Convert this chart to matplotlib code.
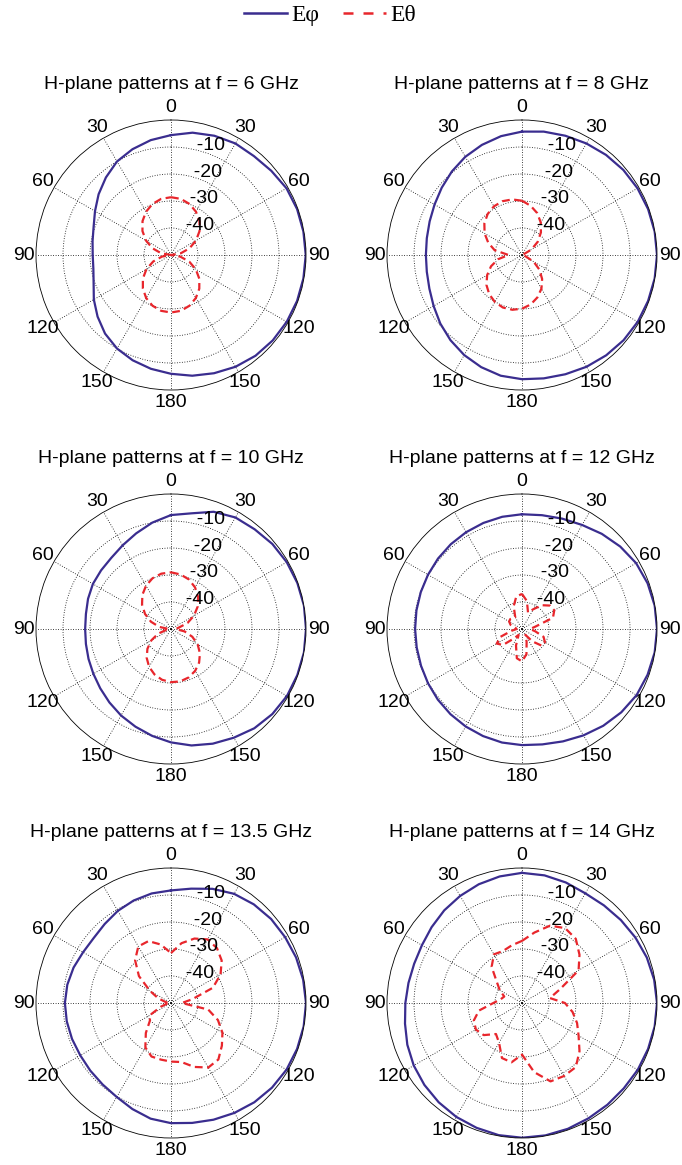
import numpy as np
import matplotlib.pyplot as plt
from matplotlib.lines import Line2D

plt.rcParams['font.family'] = ['Liberation Sans', 'DejaVu Sans']

# sample angles in degrees, measured clockwise from the top (0)
angles = np.arange(0, 360, 10)

freqs = ['6', '8', '10', '12', '13.5', '14']

# E-phi (dB), one value per 10 deg
ephi_6 = [-5.6, -4.0, -3.0, -2.3, -2.2, -1.5, -0.6, -0.3, -0.2, -0.1,
          -0.2, -0.3, -0.5, -0.8, -1.3, -2.2, -3.4, -4.6, -6.0,
          -7.2, -8.5, -10.0, -12.0, -14.5, -17.0, -19.5, -20.8, -21.0,
          -20.5, -19.5, -17.5, -15.0, -12.5, -10.0, -8.3, -6.8]
ephi_8 = [-4.3, -3.6, -3.0, -2.3, -1.6, -1.0, -0.6, -0.3, -0.1, 0.0,
          -0.1, -0.3, -0.5, -0.9, -1.5, -2.2, -3.0, -3.6, -4.0,
          -4.6, -5.8, -7.2, -8.8, -10.5, -12.2, -13.5, -14.2, -14.4,
          -14.2, -13.6, -12.6, -11.2, -9.6, -8.0, -6.6, -5.3]
ephi_10 = [-7.8, -6.5, -3.8, -2.3, -1.8, -1.0, -0.5, -0.2, 0.0, 0.0,
           0.0, -0.2, -0.4, -1.0, -2.0, -3.5, -4.8, -6.2, -8.0,
           -9.8, -11.5, -13.0, -14.5, -15.8, -16.8, -17.5, -18.0, -18.2,
           -18.0, -17.3, -16.6, -16.2, -15.6, -14.2, -12.3, -10.0]
ephi_12 = [-7.5, -7.2, -6.5, -5.5, -4.0, -2.5, -1.2, -0.5, -0.1, 0.0,
           -0.1, -0.5, -1.0, -2.0, -3.2, -4.5, -5.7, -6.6, -7.0,
           -7.3, -7.8, -8.3, -8.8, -9.3, -9.8, -10.2, -10.4, -10.4,
           -10.3, -10.1, -9.8, -9.4, -9.0, -8.6, -8.2, -7.8]
ephi_135 = [-8.3, -7.0, -5.0, -3.3, -2.3, -1.6, -1.2, -0.7, -0.3, 0.0,
            -0.1, -0.3, -0.6, -1.2, -2.0, -3.0, -4.0, -4.9, -5.5,
            -6.5, -8.2, -9.8, -10.6, -11.0, -11.2, -11.0, -10.8, -10.7,
            -11.0, -11.6, -12.4, -12.6, -11.8, -10.6, -9.6, -8.8]
ephi_14 = [-1.8, -2.0, -2.5, -3.1, -2.8, -2.2, -1.5, -0.8, -0.3, 0.0,
           -0.1, -0.3, -0.5, -0.8, -0.8, -0.7, -0.4, -0.2, -0.1,
           -0.3, -0.8, -1.3, -2.0, -2.8, -3.7, -4.8, -6.0, -6.8,
           -7.3, -7.5, -7.2, -6.3, -5.2, -4.2, -3.2, -2.4]

# E-theta (dB)
eth_6 = [-28.6, -28.9, -29.9, -31.5, -33.6, -36.2, -39.3, -42.7, -46.3, -50.0,
         -46.5, -42.8, -39.4, -36.3, -33.7, -31.6, -30.0, -29.0, -28.7,
         -29.0, -30.0, -31.6, -33.8, -36.4, -39.5, -43.0, -46.6, -50.0,
         -46.3, -42.7, -39.3, -36.2, -33.6, -31.5, -29.9, -28.9]
eth_8 = [-29.9, -31.5, -33.5, -36.1, -39.1, -42.4, -46.0, -49.6, -50.0, -50.0,
         -50.0, -48.6, -45.0, -41.6, -38.4, -35.6, -33.3, -31.4, -30.1,
         -29.4, -29.3, -29.9, -31.1, -32.8, -35.1, -37.8, -41.0, -45.0,
         -39.7, -36.7, -34.0, -31.8, -30.2, -29.2, -28.8, -29.1]
eth_10 = [-29.0, -29.5, -30.5, -32.2, -34.4, -37.1, -40.2, -43.5, -47.1, -48.3,
          -44.9, -41.6, -38.6, -36.0, -33.8, -32.1, -30.9, -30.3, -30.3,
          -30.9, -32.1, -33.8, -36.0, -38.6, -41.6, -44.9, -48.3, -49.3,
          -45.6, -42.1, -38.9, -36.0, -33.5, -31.5, -30.0, -29.2]
eth_12 = [-37.0, -39.5, -43.5, -41.5, -38.5, -36.5, -36.2, -37.8, -45.0, -47.0,
          -45.0, -41.5, -40.2, -40.3, -44.0, -47.5, -45.0, -40.5, -38.0,
          -39.0, -43.5, -47.5, -45.5, -40.8, -39.2, -41.5, -46.0, -48.0,
          -47.5, -45.5, -44.5, -44.3, -44.8, -45.0, -41.0, -37.8]
eth_135 = [-31.5, -27.5, -24.6, -22.8, -23.5, -25.5, -28.8, -33.5, -42.0, -46.0,
           -36.0, -31.5, -28.0, -25.4, -22.7, -22.4, -24.8, -27.8, -28.3,
           -28.7, -28.9, -31.0, -35.5, -39.8, -41.0, -46.0, -48.5, -49.5,
           -48.0, -45.0, -41.0, -34.5, -29.3, -25.8, -25.6, -28.0]
eth_14 = [-27.0, -23.5, -19.5, -18.0, -19.0, -22.2, -25.8, -35.0, -39.5, -34.1,
          -31.0, -28.3, -25.8, -22.2, -19.0, -18.8, -19.1, -24.0, -30.9,
          -27.7, -28.3, -33.0, -35.0, -31.5, -30.3, -31.0, -33.8, -39.4,
          -42.0, -43.0, -40.5, -37.8, -32.5, -29.2, -29.5, -28.3]

ephi_all = [ephi_6, ephi_8, ephi_10, ephi_12, ephi_135, ephi_14]
eth_all = [eth_6, eth_8, eth_10, eth_12, eth_135, eth_14]

r_ticks = [-40, -30, -20, -10]
theta_ticks = np.arange(0, 360, 30)
theta_labels = ['0', '30', '60', '90', '120', '150', '180', '150', '120', '90', '60', '30']

blue = '#3a2d8f'
red = '#e8262c'

W, H = 682, 1165
R = 135
centers_x = [171, 522]
centers_y = [255, 629, 1003]

fig = plt.figure(figsize=(W / 100, H / 100), dpi=100)


def closed(vals):
    th = np.deg2rad(np.append(angles, 360))
    return th, np.append(vals, vals[0])


for i, f in enumerate(freqs):
    cx = centers_x[i % 2]
    cy = centers_y[i // 2]
    rect = [(cx - R) / W, (H - cy - R) / H, 2 * R / W, 2 * R / H]
    ax = fig.add_axes(rect, projection='polar')
    ax.set_theta_zero_location('N')
    ax.set_theta_direction(-1)
    ax.set_ylim(-50, 0)

    th, v = closed(ephi_all[i])
    ax.plot(th, v, color=blue, lw=1.6, solid_joinstyle='round')
    th, v = closed(eth_all[i])
    ax.plot(th, v, color=red, lw=1.6, linestyle=(0, (3.5, 2.0)))

    ax.set_xticks(np.deg2rad(theta_ticks))
    ax.set_xticklabels(theta_labels, fontsize=14)
    ax.tick_params(axis='x', size=0, pad=2)
    ax.set_yticks(r_ticks)
    ax.set_yticklabels([])
    for r in r_ticks:
        ax.text(np.deg2rad(8), r + 1, '  %d' % r, ha='left', va='center', fontsize=14)

    ax.grid(True, color='black', linestyle=(0, (1, 2)), linewidth=0.6)
    ax.spines['polar'].set_linewidth(0.6)
    ax.spines['polar'].set_color('black')

    ax.set_title('H-plane patterns at f = %s GHz' % f, fontsize=14, y=1.115, pad=0)

handles = [Line2D([], [], color=blue, lw=1.8),
           Line2D([], [], color=red, lw=1.8, linestyle=(0, (4, 4)))]
fig.legend(handles, ['E\u03c6', 'E\u03b8'], loc='center', ncol=2,
           bbox_to_anchor=(0.484, 1 - 15 / H), frameon=False,
           prop={'family': ['Liberation Serif', 'DejaVu Serif'], 'size': 17},
           handlelength=1.8, handletextpad=0.2, columnspacing=1.0)

fig.savefig('out.png', dpi=100, facecolor='white')
